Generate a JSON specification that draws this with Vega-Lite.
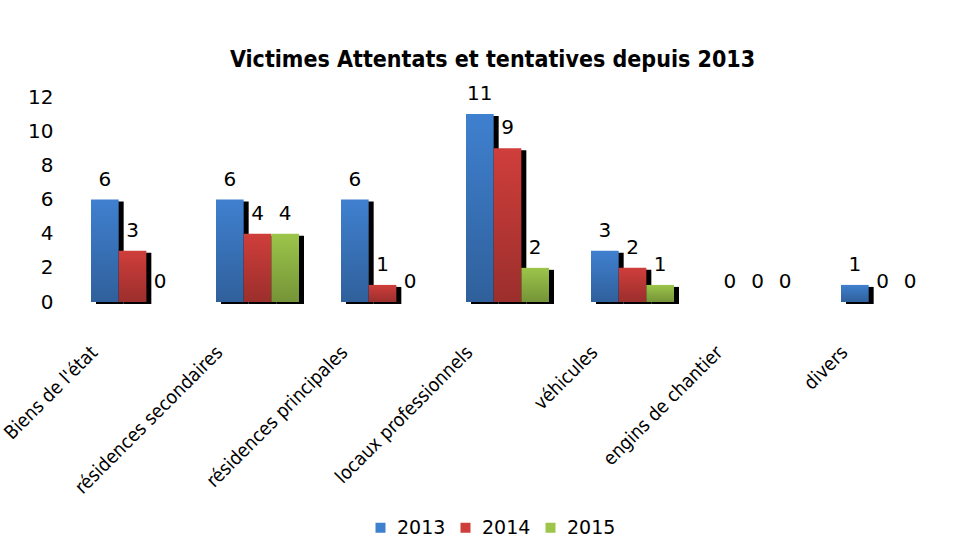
{
  "$schema": "https://vega.github.io/schema/vega-lite/v6.json",
  "width": 875,
  "height": 205,
  "autosize": {"type": "none"},
  "padding": {"left": 70, "top": 97, "right": 11, "bottom": 253},
  "background": "white",
  "title": {
    "text": "Victimes Attentats et tentatives depuis 2013",
    "font": "DejaVu Sans Condensed",
    "fontSize": 23,
    "fontWeight": "bold",
    "color": "black",
    "anchor": "middle",
    "dx": -15,
    "offset": 12
  },
  "config": {
    "view": {"stroke": null},
    "axis": {"grid": false, "domain": false, "ticks": false}
  },
  "data": {
    "values": [
      {"cat": "Biens de l'état", "year": "2013", "value": 6},
      {"cat": "Biens de l'état", "year": "2014", "value": 3},
      {"cat": "Biens de l'état", "year": "2015", "value": 0},
      {"cat": "résidences secondaires", "year": "2013", "value": 6},
      {"cat": "résidences secondaires", "year": "2014", "value": 4},
      {"cat": "résidences secondaires", "year": "2015", "value": 4},
      {"cat": "résidences principales", "year": "2013", "value": 6},
      {"cat": "résidences principales", "year": "2014", "value": 1},
      {"cat": "résidences principales", "year": "2015", "value": 0},
      {"cat": "locaux professionnels", "year": "2013", "value": 11},
      {"cat": "locaux professionnels", "year": "2014", "value": 9},
      {"cat": "locaux professionnels", "year": "2015", "value": 2},
      {"cat": "véhicules", "year": "2013", "value": 3},
      {"cat": "véhicules", "year": "2014", "value": 2},
      {"cat": "véhicules", "year": "2015", "value": 1},
      {"cat": "engins de chantier", "year": "2013", "value": 0},
      {"cat": "engins de chantier", "year": "2014", "value": 0},
      {"cat": "engins de chantier", "year": "2015", "value": 0},
      {"cat": "divers", "year": "2013", "value": 1},
      {"cat": "divers", "year": "2014", "value": 0},
      {"cat": "divers", "year": "2015", "value": 0}
    ]
  },
  "encoding": {
    "x": {
      "field": "cat",
      "type": "nominal",
      "sort": null,
      "scale": {"paddingInner": 0.336, "paddingOuter": 0.168},
      "axis": {
        "title": null,
        "labelAngle": -45,
        "labelAlign": "right",
        "labelBaseline": "middle",
        "labelOffset": -38,
        "labelPadding": 47,
        "labelFont": "DejaVu Sans Condensed",
        "labelFontSize": 19,
        "labelColor": "black",
        "labelLimit": 400
      }
    },
    "y": {
      "field": "value",
      "type": "quantitative",
      "scale": {"domain": [0, 12], "nice": false},
      "axis": {
        "title": null,
        "values": [0, 2, 4, 6, 8, 10, 12],
        "labelFont": "DejaVu Sans",
        "labelFontSize": 20,
        "labelColor": "black",
        "labelPadding": 17
      }
    }
  },
  "resolve": {"scale": {"xOffset": "independent"}},
  "layer": [
    {
      "mark": {"type": "bar", "color": "black", "yOffset": 2},
      "encoding": {
        "xOffset": {
          "field": "year",
          "type": "nominal",
          "scale": {"paddingInner": 0, "paddingOuter": 0, "range": [5, 88]}
        },
        "y": {"field": "value", "type": "quantitative"}
      }
    },
    {
      "encoding": {
        "xOffset": {
          "field": "year",
          "type": "nominal",
          "scale": {"paddingInner": 0, "paddingOuter": 0}
        }
      },
      "layer": [
        {
          "mark": {"type": "bar"},
          "encoding": {
            "color": {
              "field": "year",
              "type": "nominal",
              "scale": {"domain": ["2013", "2014", "2015"], "range": ["#3f80cf", "#cf3e3b", "#9cc54a"]},
              "legend": {
                "title": null,
                "orient": "none",
                "legendX": 301,
                "legendY": 421,
                "direction": "horizontal",
                "symbolType": "square",
                "symbolSize": 100,
                "symbolStrokeWidth": 0,
                "labelFont": "DejaVu Sans",
                "labelFontSize": 19,
                "labelOffset": 7,
                "labelColor": "black",
                "columnPadding": 10
              }
            }
          }
        },
        {
          "mark": {
            "type": "bar",
            "fill": {
              "gradient": "linear",
              "x1": 0, "y1": 0, "x2": 0, "y2": 1,
              "stops": [
                {"offset": 0, "color": "rgba(0,0,0,0)"},
                {"offset": 1, "color": "rgba(0,0,0,0.25)"}
              ]
            }
          },
          "encoding": {}
        },
        {
          "mark": {"type": "text", "baseline": "bottom", "dy": -10, "font": "DejaVu Sans", "fontSize": 20, "color": "black"},
          "encoding": {"text": {"field": "value", "type": "quantitative"}}
        }
      ]
    }
  ]
}
